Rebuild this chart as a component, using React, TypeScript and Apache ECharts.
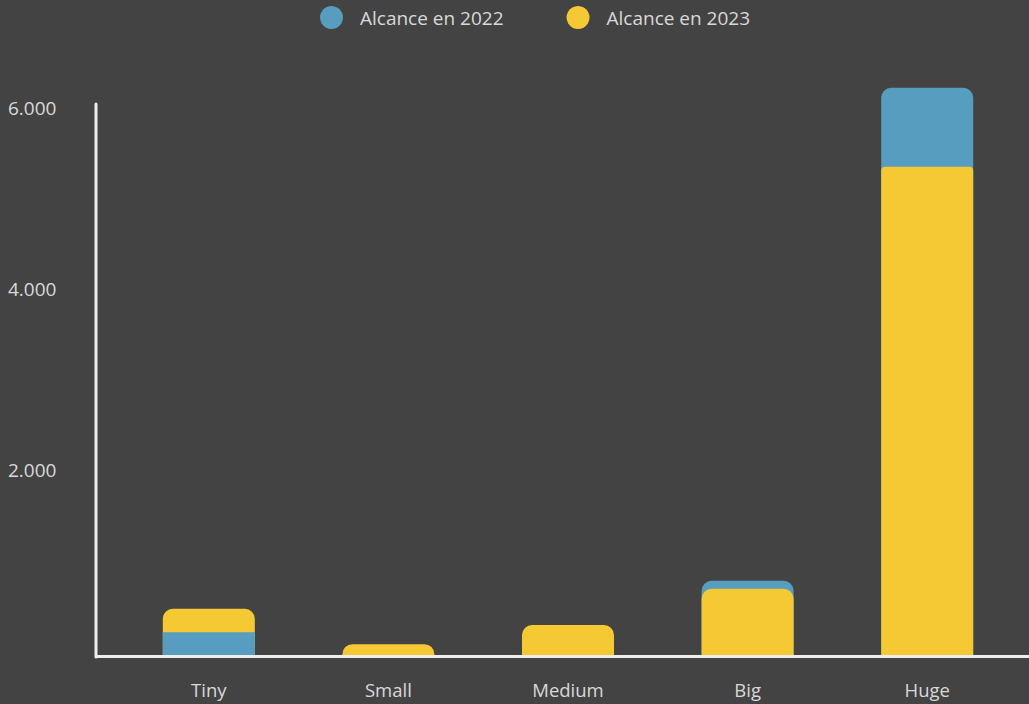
import React, { useEffect, useRef } from "react";
import * as echarts from "echarts";

const categories = ["Tiny", "Small", "Medium", "Big", "Huge"];
const values2022 = [250, 0, 0, 820, 6260];
const values2023 = [510, 120, 330, 730, 5390];
const yTicks = [0, 2000, 4000, 6000];
const names = ["Alcance en 2022", "Alcance en 2023"];

const BLUE = "#569dbf";
const YELLOW = "#f5c933";
const BG = "#434343";
const TEXT = "#d9d9d9";
const AXIS = "#eeeeee";

export default function App() {
  const ref = useRef<HTMLDivElement>(null);
  useEffect(() => {
    if (!ref.current) return;
    const chart = echarts.init(ref.current, undefined, { renderer: "svg" });
    const back2022 = values2022.map((v, i) => (v > 0 && v >= values2023[i] ? v : "-"));
    const back2023 = values2023.map((v, i) => (v > 0 && v > values2022[i] ? v : "-"));
    const front2022 = values2022.map((v, i) =>
      v > 0 && v < values2023[i] ? { value: v, itemStyle: { borderRadius: 0 } } : "-"
    );
    const front2023 = values2023.map((v, i) =>
      v > 0 && v <= values2022[i]
        ? { value: v, itemStyle: { borderRadius: v > 3000 ? [4, 4, 0, 0] : [10, 10, 0, 0] } }
        : "-"
    );
    const base = {
      type: "bar",
      barWidth: 92,
      barGap: "-100%",
      clip: false,
      itemStyle: { borderRadius: [10, 10, 0, 0] },
    };
    chart.setOption({
      animation: false,
      backgroundColor: BG,
      textStyle: { fontFamily: "'Open Sans', sans-serif" },
      legend: {
        data: names,
        left: 315,
        top: 1,
        icon: "circle",
        itemWidth: 23,
        itemHeight: 23,
        itemGap: 63,
        textStyle: { color: TEXT, fontSize: 19, padding: [0, 0, 0, 12] },
      },
      grid: { left: 119, right: 12, top: 111.4, bottom: 49 },
      xAxis: {
        type: "category",
        data: categories,
        axisLine: { show: false },
        axisTick: { show: false },
        axisLabel: { color: TEXT, fontSize: 18.5, margin: 25 },
      },
      yAxis: {
        type: "value",
        min: yTicks[0],
        max: yTicks[yTicks.length - 1],
        interval: 2000,
        splitLine: { show: false },
        axisLine: { show: false },
        axisTick: { show: false },
        axisLabel: {
          color: TEXT,
          fontSize: 19,
          align: "left",
          verticalAlign: "bottom",
          lineHeight: 7,
          margin: 111,
          formatter: (v: number) => (v === 0 ? "" : v.toLocaleString("de-DE")),
        },
      },
      graphic: [
        {
          type: "line",
          z: 100,
          shape: { x1: 96, y1: 104, x2: 96, y2: 657 },
          style: { stroke: AXIS, lineWidth: 3, lineCap: "round" },
        },
        {
          type: "line",
          z: 100,
          shape: { x1: 96, y1: 656.5, x2: 1029, y2: 656.5 },
          style: { stroke: AXIS, lineWidth: 3 },
        },
      ],
      series: [
        { ...base, name: names[0], color: BLUE, data: back2022 },
        { ...base, name: names[1], color: YELLOW, data: back2023 },
        { ...base, name: names[0], color: BLUE, data: front2022 },
        { ...base, name: names[1], color: YELLOW, data: front2023 },
      ],
    });
    return () => chart.dispose();
  }, []);
  return <div ref={ref} style={{ width: 1029, height: 704, position: "absolute", left: 0, top: 0 }} />;
}
